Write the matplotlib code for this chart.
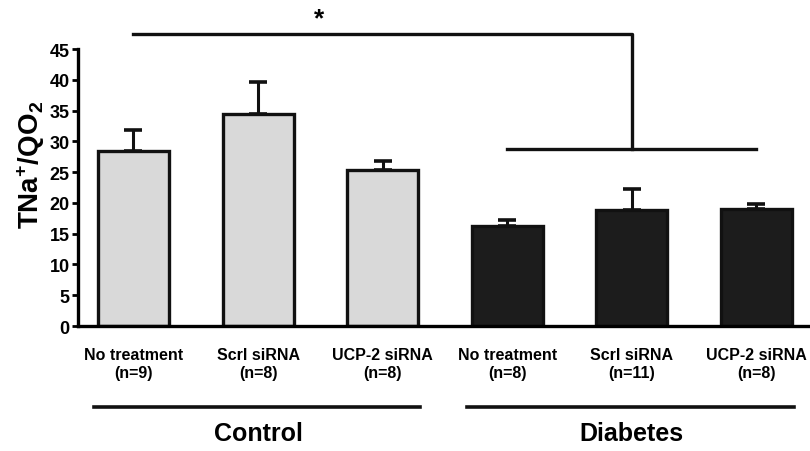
import matplotlib
matplotlib.use("Agg")
import matplotlib.pyplot as plt
import matplotlib.transforms as mtransforms
from matplotlib import font_manager

names = {f.name for f in font_manager.fontManager.ttflist}
font = 'Liberation Sans Narrow' if 'Liberation Sans Narrow' in names else 'Liberation Sans'

plt.rcParams['font.family'] = [font, 'DejaVu Sans']
plt.rcParams['font.weight'] = 'bold'
plt.rcParams['mathtext.fontset'] = 'custom'
plt.rcParams['mathtext.rm'] = font + ':bold'
plt.rcParams['mathtext.bf'] = font + ':bold'

# data
treatments = ['No treatment', 'Scrl siRNA', 'UCP-2 siRNA',
              'No treatment', 'Scrl siRNA', 'UCP-2 siRNA']
n_counts = [9, 8, 8, 8, 11, 8]
means = [28.5, 34.5, 25.4, 16.2, 18.8, 19.0]
sem = [3.4, 5.2, 1.4, 1.0, 3.5, 0.9]
groups = ['Control', 'Diabetes']
group_colors = ['#d9d9d9', '#1c1c1c']

fig = plt.figure(figsize=(8.1, 4.52), dpi=100)
ax = fig.add_axes([0.0963, 0.2765, 0.9037, 0.6125])

x = list(range(len(means)))
colors = [group_colors[0]] * 3 + [group_colors[1]] * 3
ax.bar(x, means, width=0.57, color=colors, edgecolor='#111111', linewidth=2.4, zorder=2)
ax.errorbar(x, means, yerr=[[0] * len(sem), sem], fmt='none', ecolor='#111111',
            elinewidth=2.2, capsize=6.5, capthick=2.6, zorder=1)

ax.set_xlim(-0.445, 5.43)
ax.set_ylim(0, 45)
ax.set_yticks(range(0, 46, 5))
ax.spines['top'].set_visible(False)
ax.spines['right'].set_visible(False)
ax.spines['left'].set_linewidth(2.4)
ax.spines['bottom'].set_linewidth(2.4)
ax.tick_params(axis='y', length=4, width=2, labelsize=13, pad=2)
ax.set_xticks(x)
ax.set_xticklabels([f'{t}\n(n={n})' for t, n in zip(treatments, n_counts)],
                   fontsize=11.5, linespacing=1.3)
ax.tick_params(axis='x', length=0, pad=15)

fig.text(0.038, 1 - 165 / 452, r'TNa$^{+}$/QO$_{2}$', rotation=90,
         ha='center', va='center', fontsize=20, fontweight='bold')

# significance bracket
ax.plot([0, 4, 4], [47.5, 47.5, 28.8], color='#111111', lw=2.4, clip_on=False)
ax.plot([3, 5], [28.8, 28.8], color='#111111', lw=2.4, clip_on=False)
ax.text(1.49, 50.0, '*', ha='center', va='center', fontsize=19, fontweight='bold')

# group underlines and labels
trans = mtransforms.blended_transform_factory(ax.transData, fig.transFigure)
for i, g in enumerate(groups):
    c = 1 + 3 * i
    ax.plot([c - 1.32, c + 1.3], [1 - 408 / 452] * 2, color='#111111', lw=2.6,
            transform=trans, clip_on=False)
    ax.text(c, 1 - 434 / 452, g, transform=trans, ha='center', va='center',
            fontsize=18, fontweight='bold')

fig.savefig('out.png', dpi=100)
